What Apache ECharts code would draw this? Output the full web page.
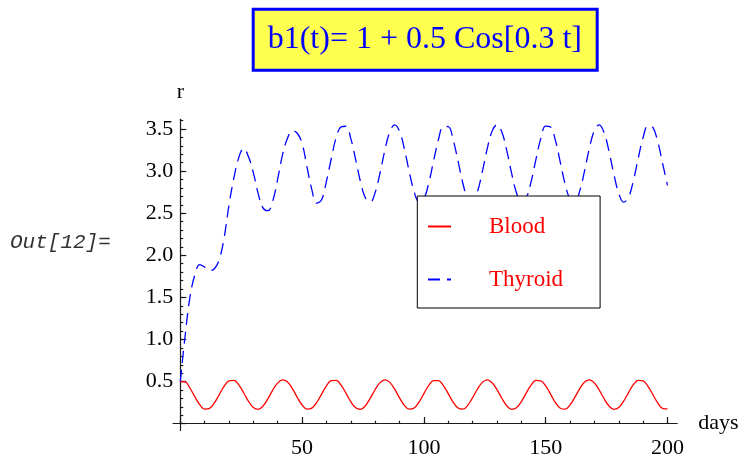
<!DOCTYPE html>
<html>
<head>
<meta charset="utf-8">
<script src="https://cdn.jsdelivr.net/npm/echarts@6/dist/echarts.min.js"></script>
<style>
  html, body { margin: 0; padding: 0; background: #ffffff; }
  #chart { width: 742px; height: 459px; }
</style>
</head>
<body>
<div id="chart"></div>
<script>
// Model output: concentration r in blood and thyroid over 200 days,
// driven by the periodic intake b1(t) = 1 + 0.5 Cos[0.3 t].
const days = [
  0, 2, 4, 6, 8, 10, 12, 14, 16, 18,
  20, 22, 24, 26, 28, 30, 32, 34, 36, 38,
  40, 42, 44, 46, 48, 50, 52, 54, 56, 58,
  60, 62, 64, 66, 68, 70, 72, 74, 76, 78,
  80, 82, 84, 86, 88, 90, 92, 94, 96, 98,
  100, 102, 104, 106, 108, 110, 112, 114, 116, 118,
  120, 122, 124, 126, 128, 130, 132, 134, 136, 138,
  140, 142, 144, 146, 148, 150, 152, 154, 156, 158,
  160, 162, 164, 166, 168, 170, 172, 174, 176, 178,
  180, 182, 184, 186, 188, 190, 192, 194, 196, 198,
  200
];

const blood = [
  0.500, 0.497, 0.421, 0.319, 0.226, 0.174, 0.182, 0.247, 0.346, 0.445,
  0.509, 0.515, 0.462, 0.368, 0.266, 0.192, 0.171, 0.211, 0.297, 0.401,
  0.485, 0.520, 0.494, 0.416, 0.313, 0.222, 0.173, 0.185, 0.252, 0.352,
  0.450, 0.511, 0.514, 0.458, 0.363, 0.261, 0.189, 0.171, 0.214, 0.303,
  0.406, 0.488, 0.520, 0.491, 0.410, 0.307, 0.217, 0.172, 0.187, 0.257,
  0.358, 0.454, 0.512, 0.512, 0.453, 0.357, 0.256, 0.186, 0.172, 0.218,
  0.309, 0.412, 0.491, 0.520, 0.487, 0.405, 0.302, 0.214, 0.171, 0.190,
  0.262, 0.364, 0.459, 0.514, 0.510, 0.448, 0.351, 0.251, 0.184, 0.173,
  0.223, 0.315, 0.417, 0.495, 0.520, 0.484, 0.399, 0.296, 0.210, 0.171,
  0.193, 0.268, 0.370, 0.463, 0.515, 0.508, 0.444, 0.345, 0.246, 0.182,
  0.175
];

const thyroid = [
  0.50, 1.05, 1.51, 1.77, 1.89, 1.86, 1.82, 1.84, 1.95, 2.21,
  2.60, 2.92, 3.16, 3.27, 3.17, 2.98, 2.73, 2.56, 2.53, 2.65,
  2.91, 3.20, 3.39, 3.48, 3.45, 3.33, 3.05, 2.78, 2.62, 2.66,
  2.88, 3.15, 3.40, 3.525, 3.533, 3.386, 3.136, 2.870, 2.680, 2.634,
  2.747, 2.980, 3.251, 3.466, 3.550, 3.473, 3.262, 2.991, 2.755, 2.635,
  2.675, 2.859, 3.124, 3.377, 3.530, 3.529, 3.374, 3.121, 2.856, 2.673,
  2.636, 2.757, 2.995, 3.266, 3.475, 3.550, 3.464, 3.247, 2.976, 2.744,
  2.633, 2.682, 2.873, 3.140, 3.389, 3.534, 3.524, 3.362, 3.105, 2.843,
  2.667, 2.639, 2.768, 3.010, 3.280, 3.483, 3.549, 3.455, 3.233, 2.961,
  2.734, 2.632, 2.689, 2.887, 3.155, 3.401, 3.538, 3.519, 3.350, 3.090,
  2.830
];

const seriesNames = ['Blood', 'Thyroid'];
const titleText = 'b1(t)= 1 + 0.5 Cos[0.3 t]';
const cellLabel = 'Out[12]=';
const xName = 'days';
const yName = 'r';

const serif = 'Liberation Serif';
const axisColor = '#1a1a1a';

function pairs(xs, ys) {
  return xs.map((x, i) => [x, ys[i]]);
}

const chart = echarts.init(document.getElementById('chart'), null, { renderer: 'canvas' });

const hiddenLine = { show: false };
const noSplit = { show: false };

chart.setOption({
  animation: false,
  backgroundColor: '#ffffff',
  title: [
    {
      text: titleText,
      left: 252.7,
      top: 8.8,
      padding: [13, 15, 13, 15],
      backgroundColor: '#ffff50',
      borderColor: '#0000ff',
      borderWidth: 3,
      textStyle: {
        fontFamily: serif,
        fontWeight: 'normal',
        fontSize: 32,
        lineHeight: 36,
        color: '#0000ff'
      }
    },
    {
      text: cellLabel,
      left: 10,
      top: 231.5,
      padding: 0,
      textStyle: {
        fontFamily: 'Liberation Mono',
        fontStyle: 'italic',
        fontWeight: 'normal',
        fontSize: 21,
        lineHeight: 21,
        color: '#333333'
      }
    }
  ],
  legend: {
    data: seriesNames,
    orient: 'vertical',
    left: 417.3,
    top: 196,
    padding: [19, 37, 17, 9.7],
    backgroundColor: '#ffffff',
    borderColor: '#000000',
    borderWidth: 1,
    borderRadius: 0,
    itemWidth: 23,
    itemHeight: 14,
    itemGap: 30,
    // only the line sample is shown, no marker on it
    itemStyle: { opacity: 0 },
    textStyle: {
      fontFamily: serif,
      fontSize: 23,
      color: '#ff0000',
      padding: [0, 0, 0, 33]
    }
  },
  grid: [
    // data area: 0..200 days, 0..3.6
    { left: 180.3, right: 74.5, top: 120.6, bottom: 35.3 },
    // major ticks and labels: 0..200, 0..3.5
    { left: 180.3, right: 74.5, top: 129, bottom: 35.3 },
    // axis lines, running slightly past the data range
    { left: 173.0, right: 64.8, top: 119.3, bottom: 28.6 }
  ],
  xAxis: [
    {
      type: 'value', gridIndex: 0, min: 0, max: 200, interval: 10,
      axisLine: hiddenLine, splitLine: noSplit,
      axisTick: { show: true, inside: true, length: 3, lineStyle: { color: axisColor, width: 1.2 } },
      axisLabel: { show: false }
    },
    {
      type: 'value', gridIndex: 1, min: 0, max: 200, interval: 50,
      axisLine: hiddenLine, splitLine: noSplit,
      axisTick: { show: true, inside: true, length: 6, lineStyle: { color: axisColor, width: 1.2 } },
      axisLabel: {
        show: true, margin: 14, color: '#000000',
        fontFamily: serif, fontSize: 22,
        formatter: v => (v === 0 ? '' : String(v))
      }
    },
    {
      type: 'value', gridIndex: 2, min: -3, max: 204,
      splitLine: noSplit,
      axisLine: { show: true, onZero: true, lineStyle: { color: axisColor, width: 1.2 } },
      axisTick: { show: false },
      axisLabel: { show: false },
      name: xName,
      nameLocation: 'end',
      nameGap: 21,
      nameTextStyle: { fontFamily: serif, fontSize: 22, color: '#000000' }
    }
  ],
  yAxis: [
    {
      type: 'value', gridIndex: 0, min: 0, max: 3.6, interval: 0.1,
      axisLine: hiddenLine, splitLine: noSplit,
      axisTick: { show: true, inside: true, length: 3, lineStyle: { color: axisColor, width: 1.2 } },
      axisLabel: { show: false }
    },
    {
      type: 'value', gridIndex: 1, min: 0, max: 3.5, interval: 0.5,
      axisLine: hiddenLine, splitLine: noSplit,
      axisTick: { show: true, inside: true, length: 6, lineStyle: { color: axisColor, width: 1.2 } },
      axisLabel: {
        show: true, margin: 7, color: '#000000',
        fontFamily: serif, fontSize: 22,
        formatter: v => (v === 0 ? '' : v.toFixed(1))
      }
    },
    {
      type: 'value', gridIndex: 2, min: -0.08, max: 3.615,
      splitLine: noSplit,
      axisLine: { show: true, onZero: true, lineStyle: { color: axisColor, width: 1.2 } },
      axisTick: { show: false },
      axisLabel: { show: false },
      name: yName,
      nameLocation: 'end',
      nameGap: 16,
      nameTextStyle: { fontFamily: serif, fontSize: 22, color: '#000000' }
    }
  ],
  series: [
    {
      name: seriesNames[0],
      type: 'line',
      xAxisIndex: 0,
      yAxisIndex: 0,
      data: pairs(days, blood),
      smooth: 0.4,
      symbol: 'none',
      lineStyle: { color: '#ff0000', width: 1.3 },
      itemStyle: { color: '#ff0000' },
      z: 3
    },
    {
      name: seriesNames[1],
      type: 'line',
      xAxisIndex: 0,
      yAxisIndex: 0,
      data: pairs(days, thyroid),
      smooth: 0.4,
      symbol: 'none',
      lineStyle: { color: '#0000ff', width: 1.3, type: [12, 7] },
      itemStyle: { color: '#0000ff' },
      z: 2
    }
  ]
});
</script>
</body>
</html>
